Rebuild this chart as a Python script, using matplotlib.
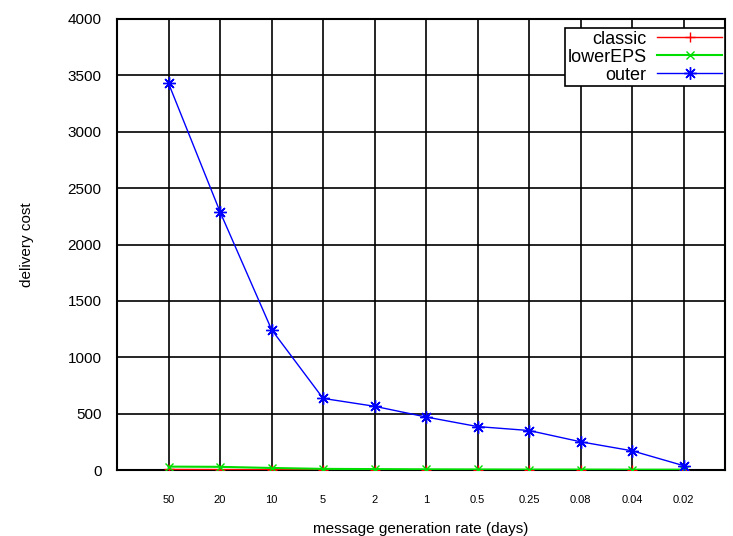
import numpy as np
import matplotlib.pyplot as plt

plt.rcParams['font.family'] = ['Liberation Sans', 'DejaVu Sans']

# taxa de geracao de mensagens (dias)
rates = ['50', '20', '10', '5', '2', '1', '0.5', '0.25', '0.08', '0.04', '0.02']
classic = [5, 4, 3, 2, 2, 1, 1, 1, 1, 1, 1]
lower_eps = [30, 28, 18, 10, 8, 6, 5, 4, 4, 3, 3]
outer = [3430, 2290, 1245, 635, 565, 470, 385, 350, 250, 170, 38]

fig = plt.figure(figsize=(7.33, 5.36), dpi=100)
ax = fig.add_axes([117/733, 1 - 470/536, (725-117)/733, (470-19)/536])

x = np.arange(1, len(rates) + 1)

# grade
for xi in x:
    ax.axvline(xi, color='black', lw=1.2, zorder=0)
for yi in range(500, 4000, 500):
    ax.axhline(yi, color='black', lw=1.2, zorder=0)

ax.plot(x, classic, color='red', lw=1, marker='+', ms=7, label='classic', zorder=3)
ax.plot(x, lower_eps, color='#00dd00', lw=1.5, marker='x', ms=6, label='lowerEPS', zorder=4)
ax.plot(x, outer, color='blue', lw=1, marker=(8, 2, 0), ms=9, label='outer', zorder=5)

ax.set_xlim(0, 11.8)
ax.set_ylim(0, 4000)
ax.set_xticks(x)
ax.set_xticklabels(rates, fontsize=8)
ax.set_yticks(range(0, 4001, 500))
ax.tick_params(axis='y', labelsize=11, direction='in', length=0, pad=11)
ax.tick_params(axis='x', length=0, pad=18)
for s in ax.spines.values():
    s.set_linewidth(1.5)

ax.set_xlabel('message generation rate (days)', fontsize=11, labelpad=12)
ax.set_ylabel('delivery cost', fontsize=11, labelpad=24)

leg = ax.legend(loc='upper right', bbox_to_anchor=(1.0, 0.98), markerfirst=False,
                fontsize=13, frameon=True,
                fancybox=False, edgecolor='black', framealpha=1,
                borderaxespad=0, handlelength=3.6, labelspacing=0.05,
                borderpad=0.15, handletextpad=0.6)
leg.get_frame().set_linewidth(1.2)
for t in leg.get_texts():
    t.set_ha('right')

fig.savefig('out.png', dpi=100)
